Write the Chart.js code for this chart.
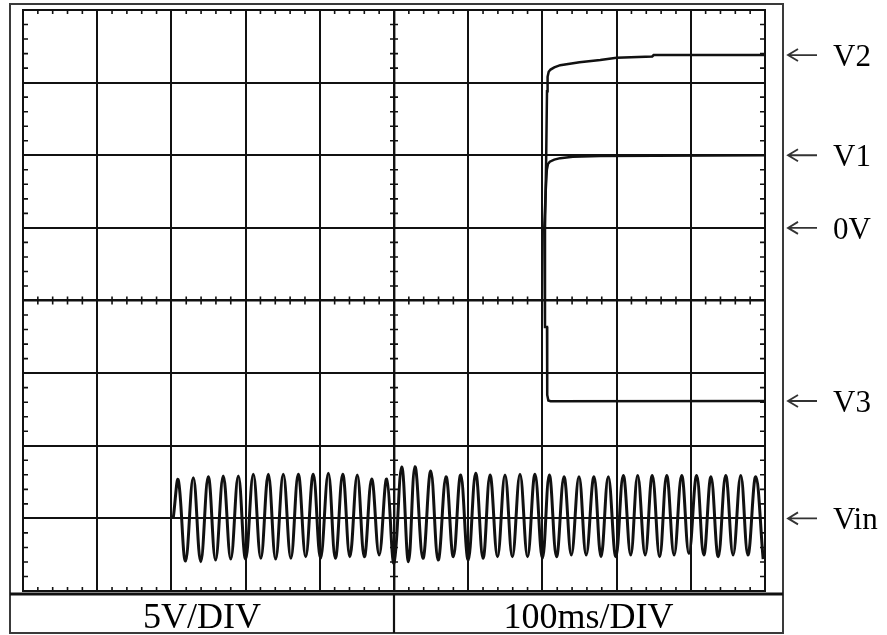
<!DOCTYPE html>
<html>
<head>
<meta charset="utf-8">
<title>Scope capture</title>
<script src="https://cdn.jsdelivr.net/npm/chart.js@4.4.1/dist/chart.umd.min.js"></script>
<style>
  html, body { margin: 0; padding: 0; background: #fff; }
  #wrap { width: 887px; height: 635px; }
</style>
</head>
<body>
<div id="wrap"><canvas id="scope" width="887" height="635"></canvas></div>
<script>
// Screen units: x in ms (100 ms/div), y in V (5 V/div), 10 x 8 divisions
const timeRange = [0, 1000];
const voltRange = [-20, 20];

// Output traces after switch-on
const v2Times = [703.5, 705.0, 706.2, 707.0, 708.5, 711, 716, 724, 750, 778, 800, 848, 850, 1000];
const v2Levels = [5.0, 9.5, 14.4, 15.4, 15.75, 15.9, 16.05, 16.2, 16.4, 16.56, 16.72, 16.8, 16.9, 16.9];

const v1Times = [702.5, 704.5, 706, 707.5, 710, 716, 724, 741, 778, 1000];
const v1Levels = [5.0, 7.6, 9.0, 9.4, 9.56, 9.7, 9.8, 9.9, 9.95, 10.0];

const v3Times = [702.5, 703.5, 706.2, 706.5, 708, 711, 1000];
const v3Levels = [5.0, -1.83, -1.83, -6.5, -6.88, -6.93, -6.92];

// Mains input: start point, then crest / trough of each cycle
const vinStart = [202.6, -14.93];
const vinPeakTimes = [209.3, 229.5, 249.7, 269.9, 290.2, 310.4, 330.6, 350.8, 371.0, 391.2,
  411.5, 430.9, 450.5, 469.9, 490.2, 510.4, 528.3, 549.5, 570.1, 589.9,
  610.1, 629.4, 649.6, 669.8, 690.0, 709.3, 729.1, 749.3, 769.5, 788.8,
  809.0, 828.4, 848.1, 867.5, 887.7, 907.9, 927.2, 947.0, 967.3, 987.5];
const vinPeakLevels = [-12.36, -12.20, -12.13, -12.08, -12.08, -11.97, -11.97, -11.97, -11.97, -11.97,
  -11.90, -11.97, -12.01, -12.29, -12.29, -11.46, -11.44, -11.74, -12.13, -12.01,
  -11.90, -12.01, -12.01, -11.97, -11.97, -12.01, -12.13, -12.13, -12.13, -12.13,
  -12.04, -12.04, -12.04, -12.04, -12.04, -12.04, -12.13, -12.04, -12.04, -12.13];
const vinTroughTimes = [219.0, 239.5, 259.5, 280.0, 300.0, 320.5, 340.5, 361.0, 381.0, 401.0,
  421.0, 440.5, 460.0, 480.0, 500.0, 519.5, 539.0, 559.5, 580.0, 600.0,
  620.0, 639.5, 659.5, 680.0, 700.0, 719.0, 739.0, 759.0, 779.0, 799.0,
  819.0, 838.5, 858.0, 877.5, 897.5, 917.5, 937.0, 957.0, 977.0, 997.5];
const vinTroughLevels = [-17.94, -17.98, -17.87, -17.80, -17.80, -17.75, -17.80, -17.75, -17.64, -17.75,
  -17.75, -17.64, -17.64, -17.52, -18.09, -17.98, -17.75, -17.87, -17.64, -17.87,
  -17.75, -17.64, -17.64, -17.64, -17.75, -17.64, -17.52, -17.52, -17.64, -17.64,
  -17.52, -17.52, -17.64, -17.52, -17.41, -17.52, -17.64, -17.52, -17.52, -17.80];

// Markers on the right-hand side
const markerNames = ['V2', 'V1', '0V', 'V3', 'Vin'];
const markerLevels = [16.9, 10.0, 5.0, -6.92, -15.0];

// Settings row under the screen
const settingLabels = ['5V/DIV', '100ms/DIV'];

const INK = '#111';

function toPoints(times, levels) {
  return times.map((t, i) => ({ x: t, y: levels[i] }));
}

function vinPoints() {
  const pts = [{ x: vinStart[0], y: vinStart[1] }];
  vinPeakTimes.forEach((t, i) => {
    pts.push({ x: t, y: vinPeakLevels[i] });
    pts.push({ x: vinTroughTimes[i], y: vinTroughLevels[i] });
  });
  return pts;
}

// Minor ticks, frames, settings row and markers
const scopeFurniture = {
  id: 'scopeFurniture',
  beforeDatasetsDraw(chart) {
    const { ctx, chartArea: a, scales: { x, y } } = chart;
    ctx.save();
    ctx.strokeStyle = INK;
    ctx.lineWidth = 1.6;
    ctx.beginPath();
    const xc = x.getPixelForValue(500);
    const yc = y.getPixelForValue(0);
    for (let t = timeRange[0] + 20; t < timeRange[1]; t += 20) {
      if (t % 100 === 0) continue;
      const px = x.getPixelForValue(t);
      ctx.moveTo(px, yc - 4); ctx.lineTo(px, yc + 4);
      ctx.moveTo(px, a.top); ctx.lineTo(px, a.top + 4);
      ctx.moveTo(px, a.bottom); ctx.lineTo(px, a.bottom - 4);
    }
    for (let v = voltRange[0] + 1; v < voltRange[1]; v += 1) {
      if (v % 5 === 0) continue;
      const py = y.getPixelForValue(v);
      ctx.moveTo(xc - 4, py); ctx.lineTo(xc + 4, py);
      ctx.moveTo(a.left, py); ctx.lineTo(a.left + 5, py);
      ctx.moveTo(a.right, py); ctx.lineTo(a.right - 5, py);
    }
    ctx.stroke();
    ctx.restore();
  },
  afterDraw(chart) {
    const { ctx, chartArea: a, scales: { x, y } } = chart;
    const outerL = 10, outerT = 4, outerR = 783, outerB = 633;
    const rowTop = a.bottom + 3;
    const split = x.getPixelForValue(500);
    ctx.save();

    // screen frame
    ctx.strokeStyle = INK;
    ctx.lineWidth = 2;
    ctx.strokeRect(a.left, a.top, a.right - a.left, a.bottom - a.top);

    // outer bezel
    ctx.strokeStyle = '#3a3a3a';
    ctx.strokeRect(outerL, outerT, outerR - outerL, outerB - outerT);

    // settings row
    ctx.strokeStyle = INK;
    ctx.lineWidth = 3;
    ctx.beginPath();
    ctx.moveTo(outerL, rowTop); ctx.lineTo(outerR, rowTop);
    ctx.stroke();
    ctx.lineWidth = 2.2;
    ctx.beginPath();
    ctx.moveTo(split, rowTop); ctx.lineTo(split, outerB);
    ctx.stroke();

    ctx.fillStyle = '#000';
    ctx.font = '36px "Liberation Serif", "DejaVu Serif", serif';
    ctx.textAlign = 'center';
    ctx.textBaseline = 'alphabetic';
    ctx.fillText(settingLabels[0], (outerL + split) / 2, outerB - 5);
    ctx.fillText(settingLabels[1], (split + outerR) / 2, outerB - 5);

    // level markers with arrows
    ctx.font = '31px "Liberation Serif", "DejaVu Serif", serif';
    ctx.textAlign = 'left';
    ctx.strokeStyle = '#333';
    ctx.lineWidth = 1.8;
    markerNames.forEach((name, i) => {
      const py = y.getPixelForValue(markerLevels[i]);
      ctx.beginPath();
      ctx.moveTo(788, py); ctx.lineTo(817, py);
      ctx.moveTo(798, py - 6); ctx.lineTo(788, py); ctx.lineTo(798, py + 6);
      ctx.stroke();
      ctx.fillText(name, 833, py + 11);
    });
    ctx.restore();
  }
};

const traceStyle = {
  showLine: true,
  pointRadius: 0,
  borderColor: INK,
  fill: false
};

new Chart(document.getElementById('scope'), {
  type: 'scatter',
  data: {
    datasets: [
      { ...traceStyle, label: 'V2', data: toPoints(v2Times, v2Levels), borderWidth: 2.5, tension: 0 },
      { ...traceStyle, label: 'V1', data: toPoints(v1Times, v1Levels), borderWidth: 2.5, tension: 0 },
      { ...traceStyle, label: 'V3', data: toPoints(v3Times, v3Levels), borderWidth: 2.5, tension: 0 },
      { ...traceStyle, label: 'Vin', data: vinPoints(), borderWidth: 3, tension: 0.4 }
    ]
  },
  options: {
    responsive: false,
    animation: false,
    layout: { padding: { left: 23, top: 10, right: 122, bottom: 44 } },
    plugins: {
      legend: { display: false },
      tooltip: { enabled: false }
    },
    scales: {
      x: {
        type: 'linear',
        min: timeRange[0],
        max: timeRange[1],
        ticks: { display: false, stepSize: 100 },
        grid: {
          color: INK,
          lineWidth: (c) => (c.tick && c.tick.value === 500 ? 2.4 : 2),
          drawTicks: false
        },
        border: { display: false }
      },
      y: {
        type: 'linear',
        min: voltRange[0],
        max: voltRange[1],
        ticks: { display: false, stepSize: 5 },
        grid: {
          color: INK,
          lineWidth: (c) => (c.tick && c.tick.value === 0 ? 2.4 : 2),
          drawTicks: false
        },
        border: { display: false }
      }
    }
  },
  plugins: [scopeFurniture]
});
</script>
</body>
</html>
